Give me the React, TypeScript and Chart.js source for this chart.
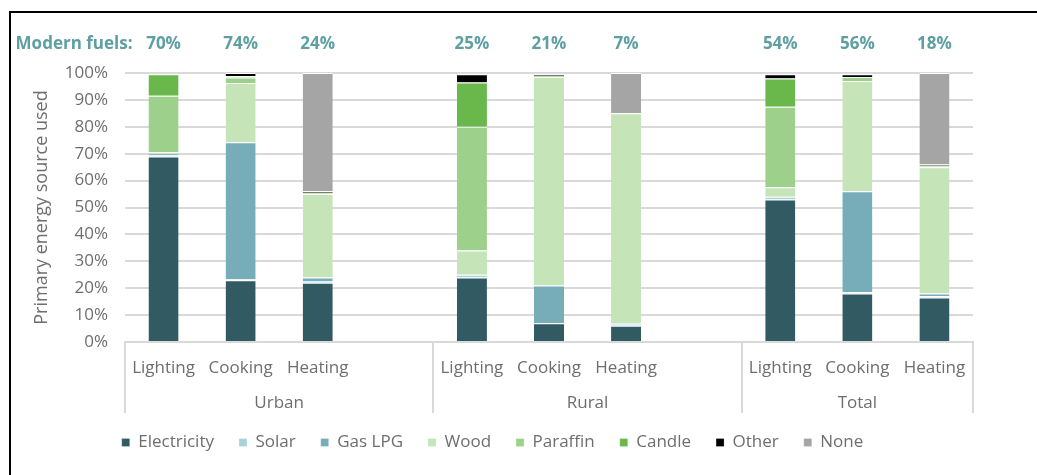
import React, { useEffect, useRef } from 'react';
import { Chart, registerables } from 'chart.js';

Chart.register(...registerables);

// ---------- data ----------
const categories = ['Lighting', 'Cooking', 'Heating', '', 'Lighting', 'Cooking', 'Heating', '', 'Lighting', 'Cooking', 'Heating'];
const groups = ['Urban', 'Rural', 'Total'];
const groupStart = [0, 4, 8];
const groupEnd = [3, 7, 10];
const modernFuels = [70, 74, 24, null, 25, 21, 7, null, 54, 56, 18];

const electricity = [69, 23, 22, null, 24, 7, 6, null, 53, 18, 16.5];
const solar = [0.5, 0.3, 0.5, null, 1, 0, 0.5, null, 1, 0.5, 0.5];
const gasLpg = [0.5, 51, 1.5, null, 0, 14, 0.5, null, 0, 37.5, 1];
const wood = [0.5, 22, 31, null, 9, 77.5, 78, null, 3.5, 41, 47];
const paraffin = [21, 2, 0.5, null, 46, 0.5, 0, null, 30, 1.5, 0.5];
const candle = [8, 0.5, 0, null, 16.5, 0, 0, null, 10.5, 0, 0];
const other = [0.3, 1.2, 0.5, null, 3, 0.5, 0, null, 1.5, 1, 0.5];
const none = [0.2, 0, 44, null, 0.5, 0.5, 15, null, 0.5, 0.5, 34];

const seriesNames = ['Electricity', 'Solar', 'Gas LPG', 'Wood', 'Paraffin', 'Candle', 'Other', 'None'];
const seriesValues = [electricity, solar, gasLpg, wood, paraffin, candle, other, none];
const seriesColors = ['#315A62', '#A8D2DC', '#76ADB9', '#C5E4B8', '#9DD08A', '#6AB84C', '#000000', '#A5A5A5'];

const yTickValues = [0, 10, 20, 30, 40, 50, 60, 70, 80, 90, 100];

const GRAY = '#6E6E6E';
const TEAL = '#5E9FA2';
const LINE = '#D9D9D9';
const FONT = '"Open Sans", sans-serif';

const annotPlugin = {
  id: 'annot',
  afterDraw(chart: any) {
    const { ctx, chartArea, scales } = chart;
    const x = scales.x;
    const half = (x.getPixelForValue(1) - x.getPixelForValue(0)) / 2;
    ctx.save();
    // group dividers
    ctx.strokeStyle = LINE;
    ctx.lineWidth = 2;
    const bounds = [
      ...groupStart.map((i) => x.getPixelForValue(i) - half),
      x.getPixelForValue(categories.length - 1) + half,
    ];
    bounds.forEach((bx) => {
      ctx.beginPath();
      ctx.moveTo(Math.round(bx), chartArea.bottom);
      ctx.lineTo(Math.round(bx), chartArea.bottom + 71);
      ctx.stroke();
    });
    // group labels
    ctx.fillStyle = GRAY;
    ctx.font = '17px ' + FONT;
    ctx.textAlign = 'center';
    ctx.textBaseline = 'middle';
    groups.forEach((g, k) => {
      const cx = (x.getPixelForValue(groupStart[k]) + x.getPixelForValue(groupEnd[k])) / 2;
      ctx.fillText(g, cx, chartArea.bottom + 61);
    });
    // modern fuels
    ctx.fillStyle = TEAL;
    ctx.font = 'bold 17px ' + FONT;
    modernFuels.forEach((v, i) => {
      if (v == null) return;
      ctx.fillText(v + '%', x.getPixelForValue(i), chartArea.top - 29);
    });
    ctx.textAlign = 'right';
    ctx.fillText('Modern fuels:', x.getPixelForValue(0) - 31, chartArea.top - 29);
    ctx.restore();
  },
};

export default function App() {
  const ref = useRef<HTMLCanvasElement | null>(null);
  useEffect(() => {
    if (!ref.current) return;
    Chart.defaults.font.family = FONT;
    const chart = new Chart(ref.current, {
      type: 'bar',
      data: {
        labels: categories,
        datasets: seriesNames.map((name, k) => ({
          label: name,
          data: seriesValues[k],
          backgroundColor: seriesColors[k],
          borderColor: '#FFFFFF',
          borderWidth: { top: 1, bottom: 0, left: 0, right: 0 },
          borderSkipped: false,
          barPercentage: 0.39,
          categoryPercentage: 1.0,
        })),
      },
      options: {
        responsive: false,
        maintainAspectRatio: false,
        animation: false,
        devicePixelRatio: 1,
        layout: { padding: { top: 73, left: 12, right: 64, bottom: 14 } },
        plugins: {
          tooltip: { enabled: false },
          legend: {
            position: 'bottom',
            labels: {
              boxWidth: 8,
              boxHeight: 8,
              color: GRAY,
              font: { size: 17, family: FONT },
              padding: 25,
            },
          },
        },
        scales: {
          x: {
            stacked: true,
            grid: { display: false, drawTicks: false },
            border: { display: true, color: LINE, width: 2 },
            ticks: {
              color: GRAY,
              font: { size: 17, family: FONT },
              padding: 16,
              autoSkip: false,
              maxRotation: 0,
            },
            afterFit: (s: any) => {
              s.height = 67;
            },
          },
          y: {
            stacked: true,
            min: 0,
            max: 100,
            afterBuildTicks: (s: any) => {
              s.ticks = yTickValues.map((v) => ({ value: v }));
            },
            ticks: {
              callback: (v: any) => v + '%',
              color: GRAY,
              font: { size: 17, family: FONT },
              padding: 17,
            },
            grid: { color: LINE, lineWidth: 2, drawTicks: false },
            border: { display: false },
            title: {
              display: true,
              text: 'Primary energy source used',
              color: GRAY,
              font: { size: 18, family: FONT },
              padding: { top: 19, bottom: 0 },
            },
            afterFit: (s: any) => {
              s.width = 113;
            },
          },
        },
      },
      plugins: [annotPlugin],
    } as any);
    return () => chart.destroy();
  }, []);

  return (
    <div style={{ position: 'fixed', left: 0, top: 0, width: 1037, height: 475, overflow: 'hidden', background: '#fff' }}>
      <canvas ref={ref} width={1037} height={475} style={{ position: 'absolute', left: 0, top: 0 }} />
      <div
        style={{
          position: 'absolute',
          left: 9,
          top: 11,
          width: 1100,
          height: 600,
          borderTop: '2px solid #000',
          borderLeft: '2px solid #000',
          pointerEvents: 'none',
        }}
      />
    </div>
  );
}
